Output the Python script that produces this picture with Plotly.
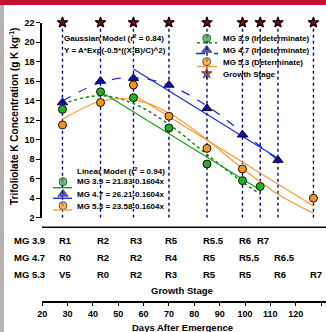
import plotly.graph_objects as go

W, H = 326, 332
FONT = "Liberation Sans, Arial, sans-serif"

# ---------------- data ----------------
days_39 = [28, 43, 56, 70, 85, 99, 106]
k_39 = [13.1, 14.9, 14.3, 11.2, 7.5, 5.8, 5.2]
days_47 = [28, 43, 56, 70, 85, 99, 113]
k_47 = [13.8, 16.0, 16.3, 15.6, 13.2, 10.5, 7.9]
days_53 = [28, 43, 56, 70, 85, 99, 127]
k_53 = [11.5, 13.8, 15.6, 12.4, 9.1, 7.0, 4.0]

# Gaussian model curves, values at the sampling days
gauss_days_39 = [28, 43, 56, 70, 85, 99, 106]
gauss_39 = [13.70, 14.50, 13.70, 11.55, 8.48, 5.65, 4.42]
gauss_days_47 = [28, 43, 56, 70, 85, 99, 113]
gauss_47 = [13.96, 15.85, 16.35, 15.57, 13.45, 10.74, 7.88]
gauss_days_53 = [28, 43, 56, 70, 85, 99, 113, 127]
gauss_53 = [12.08, 13.93, 14.09, 12.72, 9.98, 7.03, 4.40, 2.44]

# Linear model segments (end points)
lin_days_39 = [43, 106]
lin_39 = [14.93, 4.83]
lin_days_47 = [56, 113]
lin_47 = [17.23, 8.08]
lin_days_53 = [56, 127]
lin_53 = [14.60, 3.21]

# growth stage sampling days
stage_days = [28, 43, 56, 70, 85, 99, 106, 113, 127]
stage_top = 22
stage_bottom = 2

# growth stage table
stage_rows = ["MG 3.9", "MG 4.7", "MG 5.3"]
stage_row_days = [
    [28, 43, 56, 70, 85, 99, 106],
    [28, 43, 56, 70, 85, 99, 113],
    [28, 43, 56, 70, 85, 99, 113, 127],
]
stage_row_labels = [
    ["R1", "R2", "R3", "R5", "R5.5", "R6", "R7"],
    ["R0", "R2", "R2", "R4", "R5", "R5.5", "R6.5"],
    ["V5", "R0", "R2", "R3", "R5", "R5", "R6", "R7"],
]

x_ticks = [20, 30, 40, 50, 60, 70, 80, 90, 100, 110, 120, 130]
y_ticks = [2, 4, 6, 8, 10, 12, 14, 16, 18, 20, 22]

# ---------------- styles ----------------
GREEN = "#1E9E1E"
GREEN_M = "#22B022"
BLUE = "#1A2BE8"
BLUE_M = "#0A0ACC"
ORANGE = "#FF9A2E"
ORANGE_M = "#F7931E"
NAVY = "#000080"
STAR = "#8E0012"


def py(p):
    return 1 - p / H


def px(p):
    return p / W


fig = go.Figure()

# vertical dotted growth stage lines
vx, vy = [], []
for d in stage_days:
    vx += [d, d, None]
    vy += [stage_bottom, stage_top, None]
fig.add_trace(go.Scatter(x=vx, y=vy, mode="lines",
                         line=dict(color=NAVY, width=1.4, dash="dot"),
                         showlegend=False, hoverinfo="skip"))

# Gaussian curves
fig.add_trace(go.Scatter(x=gauss_days_39, y=gauss_39, mode="lines", line_shape="spline",
                         line=dict(color="#0E8A0E", width=1.5, dash="dot"), showlegend=False))
fig.add_trace(go.Scatter(x=gauss_days_47, y=gauss_47, mode="lines", line_shape="spline",
                         line=dict(color=BLUE, width=1.3, dash="dash"), showlegend=False))
fig.add_trace(go.Scatter(x=gauss_days_53, y=gauss_53, mode="lines", line_shape="spline",
                         line=dict(color=ORANGE, width=1.2), showlegend=False))

# Linear model segments
fig.add_trace(go.Scatter(x=lin_days_39, y=lin_39, mode="lines",
                         line=dict(color=GREEN, width=1.2), showlegend=False))
fig.add_trace(go.Scatter(x=lin_days_47, y=lin_47, mode="lines",
                         line=dict(color=BLUE, width=1.2), showlegend=False))
fig.add_trace(go.Scatter(x=lin_days_53, y=lin_53, mode="lines",
                         line=dict(color=ORANGE, width=1.2), showlegend=False))

# data points
mline = dict(color="#111111", width=1)
fig.add_trace(go.Scatter(x=days_39, y=k_39, mode="markers",
                         marker=dict(symbol="circle", size=8, color=GREEN_M, line=mline),
                         showlegend=False, cliponaxis=False))
fig.add_trace(go.Scatter(x=days_47, y=k_47, mode="markers",
                         marker=dict(symbol="triangle-up", size=9, color=BLUE_M, line=mline),
                         showlegend=False, cliponaxis=False))
fig.add_trace(go.Scatter(x=days_53, y=k_53, mode="markers",
                         marker=dict(symbol="circle", size=8, color=ORANGE_M, line=mline),
                         showlegend=False, cliponaxis=False))

# stars at top of stage lines
fig.add_trace(go.Scatter(x=stage_days, y=[stage_top] * len(stage_days), mode="markers",
                         marker=dict(symbol="star", size=8, color=STAR,
                                     line=dict(color="black", width=1.2)),
                         showlegend=False, cliponaxis=False))

# ---------------- manual legends (pixel overlay axes) ----------------
leg_x = [206.7, 206.7, 206.7, 206.7, 63, 63, 63]
leg_y = [38.3, 50, 61.7, 73.5, 181.7, 194, 205.7]
leg_sym = ["circle", "triangle-up", "circle", "star", "circle", "triangle-up", "circle"]
leg_col = [GREEN_M, BLUE_M, ORANGE_M, STAR, GREEN_M, BLUE_M, ORANGE_M]
leg_size = [8, 9, 8, 8, 8, 9, 8]
fig.add_trace(go.Scatter(x=leg_x, y=leg_y, mode="markers", xaxis="x2", yaxis="y2",
                         marker=dict(symbol=leg_sym, size=leg_size, color=leg_col,
                                     line=dict(color="#111111", width=1)),
                         showlegend=False, cliponaxis=False, hoverinfo="skip"))

shapes = []


def seg(x0, y0, x1, y1, color, width=1.3, dash="solid"):
    shapes.append(dict(type="line", xref="x2", yref="y2", x0=x0, y0=y0, x1=x1, y1=y1,
                       line=dict(color=color, width=width, dash=dash)))


seg(197, 42.7, 217, 42.7, "#0E8A0E", 1.6, "dot")
seg(196, 53.5, 218, 53.5, BLUE, 1.4, "dash")
seg(197, 66.5, 217, 66.5, ORANGE, 1.4)
seg(206.7, 76, 206.7, 82, NAVY, 1.3, "dot")
seg(53, 187.7, 72, 187.7, GREEN, 1.4)
seg(53, 198.3, 72, 198.3, BLUE, 1.4)
seg(53, 210, 72, 210, ORANGE, 1.4)

# separator line between plot and stage table
shapes.append(dict(type="line", xref="paper", yref="paper", x0=px(42), x1=1,
                   y0=py(227.3), y1=py(227.3), line=dict(color="black", width=1.5)))
# decorative frame: red top band and left strip
shapes.append(dict(type="rect", xref="paper", yref="paper", x0=0, x1=1, y0=py(5), y1=1,
                   fillcolor="#C8102E", line=dict(width=0), layer="below"))
shapes.append(dict(type="rect", xref="paper", yref="paper", x0=0, x1=px(4), y0=0, y1=py(5),
                   fillcolor="#B9B2B5", line=dict(width=0), layer="below"))

annotations = []


def txt(x, y, s, size=8, anchor="left", xref="x2", yref="y2", **kw):
    annotations.append(dict(x=x, y=y, xref=xref, yref=yref, text=s, showarrow=False,
                            xanchor=anchor, yanchor="middle",
                            font=dict(family=FONT, size=size, color="black", weight="bold"),
                            **kw))


# legend texts
txt(221, 38.3, "MG 3.9 (Indeterminate)")
txt(221, 50.3, "MG 4.7 (Indeterminate)")
txt(221, 62.3, "MG 5.3 (Determinate)")
txt(221, 74, "Growth Stage")
txt(62, 38.3, "Gaussian Model (r<sup>2</sup> = 0.84)")
txt(62, 50.3, "Y = A*Exp(-0.5*((X-B)/C)^2)")
txt(75, 170.5, "Linear Model (r<sup>2</sup> = 0.94)")
txt(75, 181.7, "MG 3.9 = 21.83-0.1604x")
txt(75, 194, "MG 4.7 = 26.21-0.1604x")
txt(75, 206, "MG 5.3 = 23.58-0.1604x")

# stage table
row_y = [240.5, 257, 274]
for name, ry, ds, labs in zip(stage_rows, row_y, stage_row_days, stage_row_labels):
    txt(11.5, ry, name, size=9.5)
    for d, lab in zip(ds, labs):
        annotations.append(dict(x=d, y=py(ry), xref="x", yref="paper", text=lab,
                                showarrow=False, xanchor="left", yanchor="middle", xshift=-5.5,
                                font=dict(family=FONT, size=9.5, color="black", weight="bold")))

txt(182, 290, "Growth Stage", size=9.5, anchor="center")
txt(182, 327.5, "Days After Emergence", size=9.5, anchor="center")
# y-axis title
annotations.append(dict(x=px(14), y=py(117), xref="paper", yref="paper",
                        text="Trifoliolate K Concentration (g K kg<sup>-1</sup>)",
                        showarrow=False, textangle=-90, xanchor="center", yanchor="middle",
                        font=dict(family=FONT, size=10, color="black", weight="bold")))

fig.update_layout(
    width=W, height=H,
    margin=dict(l=0, r=0, t=0, b=0),
    paper_bgcolor="white",
    plot_bgcolor="rgba(0,0,0,0)",
    showlegend=False,
    xaxis=dict(domain=[px(42), 1], range=[19.92, 131.95], anchor="free", position=py(302),
               showline=True, linecolor="black", linewidth=1.5, ticks="outside", ticklen=3,
               tickcolor="black", tickwidth=1.2, tickvals=x_ticks, showgrid=False,
               zeroline=False, automargin=False,
               tickfont=dict(family=FONT, size=9, color="black", weight="bold")),
    yaxis=dict(domain=[py(217.7), py(22.5)], range=[2, 22], anchor="x",
               showline=True, linecolor="black", linewidth=1.5, ticks="outside", ticklen=4,
               tickcolor="black", tickwidth=1.2, tickvals=y_ticks, showgrid=False,
               zeroline=False, automargin=False,
               tickfont=dict(family=FONT, size=9, color="black", weight="bold")),
    xaxis2=dict(domain=[0, 1], range=[0, W], anchor="y2", visible=False, fixedrange=True),
    yaxis2=dict(domain=[0, 1], range=[H, 0], anchor="x2", visible=False, fixedrange=True),
    shapes=shapes,
    annotations=annotations,
)

fig.write_html("out.html",
               config={"displayModeBar": False},
               post_script="document.body.style.margin='0';document.body.style.overflow='hidden';")
